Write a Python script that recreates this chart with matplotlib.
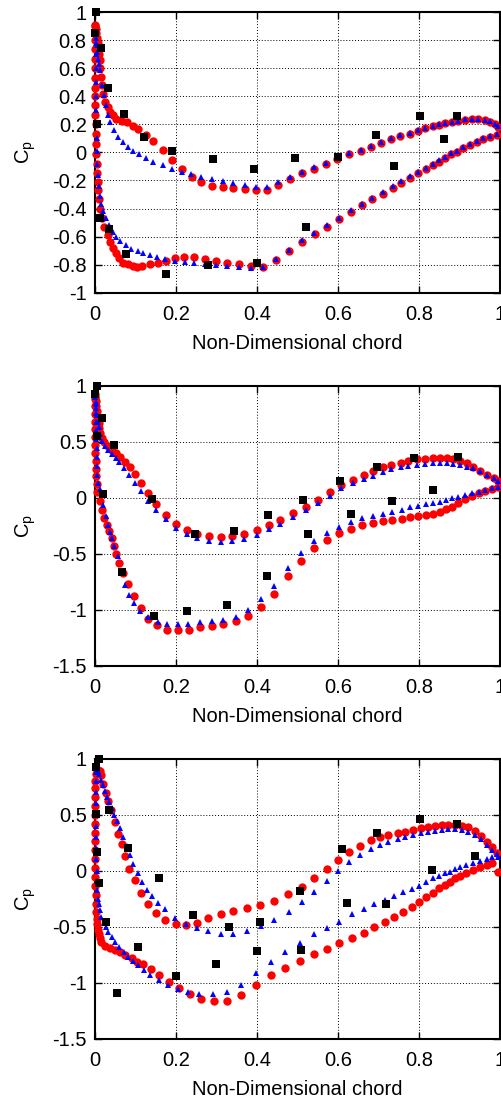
import numpy as np
import matplotlib.pyplot as plt
from matplotlib.ticker import MultipleLocator, FuncFormatter

plt.rcParams['font.family'] = ['Liberation Sans', 'DejaVu Sans']

# ---------------- panel 1 ----------------
p1_red_x = [0.000, 0.001, 0.002, 0.003, 0.005, 0.007, 0.009, 0.011, 0.012, 0.013, 0.015, 0.017, 0.021, 0.025,
            0.031, 0.037, 0.045, 0.053, 0.066, 0.078, 0.095, 0.107, 0.125, 0.144, 0.167, 0.189, 0.214, 0.239,
            0.263, 0.29, 0.315, 0.342, 0.37, 0.398, 0.424, 0.453, 0.481, 0.512, 0.541, 0.57, 0.598, 0.627,
            0.656, 0.681, 0.706, 0.73, 0.753, 0.778, 0.798, 0.816, 0.834, 0.849, 0.864, 0.881, 0.897, 0.914,
            0.93, 0.946, 0.963, 0.975, 0.988, 0.996,
            0.000, 0.000, 0.000, 0.000, 0.000, 0.000, 0.000, 0.001, 0.001, 0.001, 0.002, 0.002, 0.003, 0.003,
            0.004, 0.005, 0.0066, 0.008, 0.010, 0.0123, 0.0165, 0.023, 0.031, 0.037, 0.045, 0.052, 0.06, 0.07,
            0.081, 0.093, 0.103, 0.117, 0.136, 0.155, 0.175, 0.198, 0.22, 0.244, 0.272, 0.298, 0.327, 0.356,
            0.384, 0.414, 0.447, 0.48, 0.512, 0.543, 0.574, 0.603, 0.632, 0.66, 0.685, 0.71, 0.735, 0.756,
            0.778, 0.798, 0.817, 0.834, 0.849, 0.864, 0.879, 0.893, 0.909, 0.926, 0.942, 0.959, 0.975, 0.992]
p1_red_y = [0.91, 0.90, 0.88, 0.85, 0.82, 0.78, 0.74, 0.70, 0.66, 0.60, 0.54, 0.48, 0.42, 0.36,
            0.325, 0.29, 0.266, 0.242, 0.223, 0.214, 0.19, 0.166, 0.128, 0.081, 0.021, -0.055, -0.121, -0.178,
            -0.212, -0.236, -0.245, -0.25, -0.262, -0.269, -0.265, -0.231, -0.186, -0.148, -0.116, -0.083, -0.05, -0.014,
            0.012, 0.04, 0.069, 0.093, 0.116, 0.135, 0.154, 0.171, 0.188, 0.197, 0.207, 0.216, 0.223, 0.235,
            0.237, 0.237, 0.23, 0.218, 0.202, 0.183,
            0.86, 0.80, 0.74, 0.67, 0.60, 0.53, 0.46, 0.40, 0.34, 0.27, 0.20, 0.13, 0.06, -0.01,
            -0.08, -0.15, -0.21, -0.27, -0.33, -0.40, -0.471, -0.53, -0.59, -0.638, -0.685, -0.72, -0.752, -0.785,
            -0.799, -0.809, -0.818, -0.811, -0.797, -0.787, -0.773, -0.756, -0.747, -0.749, -0.761, -0.775, -0.785, -0.799,
            -0.809, -0.814, -0.764, -0.702, -0.641, -0.583, -0.531, -0.476, -0.424, -0.376, -0.333, -0.293, -0.252, -0.217,
            -0.181, -0.15, -0.119, -0.09, -0.067, -0.043, -0.014, 0.004, 0.029, 0.052, 0.076, 0.095, 0.111, 0.128]

p1_blue_x = [0.001, 0.002, 0.004, 0.006, 0.008, 0.010, 0.012, 0.0165, 0.022, 0.026, 0.033, 0.037, 0.048, 0.058,
             0.07, 0.082, 0.095, 0.109, 0.125, 0.144, 0.167, 0.189, 0.214, 0.237, 0.263, 0.29, 0.315, 0.342,
             0.37, 0.398, 0.424, 0.453, 0.481, 0.512, 0.541, 0.57, 0.598, 0.627, 0.656, 0.681, 0.706, 0.73,
             0.753, 0.778, 0.798, 0.816, 0.834, 0.849, 0.864, 0.881, 0.897, 0.914, 0.93, 0.946, 0.963, 0.975,
             0.988, 0.996,
             0.002, 0.002, 0.002, 0.003, 0.003, 0.003, 0.003, 0.004, 0.004, 0.005, 0.007, 0.009, 0.012, 0.016,
             0.020, 0.026, 0.035, 0.045, 0.053, 0.062, 0.076, 0.09, 0.105, 0.119, 0.136, 0.152, 0.174, 0.198,
             0.222, 0.244, 0.272, 0.298, 0.327, 0.356, 0.384, 0.414, 0.447, 0.479, 0.512, 0.542, 0.574, 0.603,
             0.632, 0.66, 0.685, 0.71, 0.735, 0.756, 0.778, 0.798, 0.817, 0.834, 0.849, 0.864, 0.879, 0.893,
             0.909, 0.926, 0.942, 0.959, 0.975, 0.992]
p1_blue_y = [0.86, 0.82, 0.77, 0.72, 0.67, 0.63, 0.587, 0.48, 0.409, 0.337, 0.266, 0.218, 0.159, 0.111,
             0.076, 0.04, 0.012, -0.012, -0.038, -0.067, -0.091, -0.119, -0.138, -0.157, -0.176, -0.19, -0.205, -0.217,
             -0.233, -0.243, -0.247, -0.214, -0.174, -0.138, -0.107, -0.075, -0.042, -0.006, 0.02, 0.047, 0.076, 0.1,
             0.122, 0.141, 0.16, 0.176, 0.192, 0.2, 0.21, 0.219, 0.226, 0.236, 0.238, 0.238, 0.232, 0.221,
             0.205, 0.186,
             0.78, 0.70, 0.60, 0.50, 0.40, 0.30, 0.20, 0.10, 0.01, -0.08, -0.16, -0.24, -0.31, -0.37,
             -0.42, -0.466, -0.519, -0.566, -0.602, -0.635, -0.662, -0.686, -0.702, -0.717, -0.728, -0.745, -0.762, -0.774,
             -0.783, -0.792, -0.799, -0.803, -0.813, -0.82, -0.822, -0.82, -0.761, -0.695, -0.628, -0.573, -0.521, -0.466,
             -0.414, -0.366, -0.323, -0.283, -0.242, -0.207, -0.171, -0.14, -0.109, -0.08, -0.057, -0.033, -0.005, 0.013,
             0.037, 0.06, 0.082, 0.1, 0.115, 0.131]

p1_exp_x = [0.003, 0.001, 0.014, 0.033, 0.072, 0.122, 0.191, 0.292, 0.393, 0.495, 0.599, 0.693, 0.802, 0.895,
            0.862, 0.739, 0.52, 0.399, 0.28, 0.176, 0.077, 0.035, 0.012, 0.006]
p1_exp_y = [1.0, 0.85, 0.743, 0.457, 0.274, 0.107, 0.012, -0.05, -0.12, -0.043, -0.031, 0.128, 0.261, 0.261,
            0.093, -0.095, -0.535, -0.792, -0.8, -0.864, -0.721, -0.543, -0.464, 0.2]

# ---------------- panel 2 ----------------
p2_red_x = [0.000, 0.001, 0.002, 0.003, 0.005, 0.007, 0.009, 0.011, 0.0123, 0.0165, 0.023, 0.031, 0.041, 0.051,
            0.062, 0.074, 0.086, 0.099, 0.113, 0.132, 0.151, 0.175, 0.2, 0.226, 0.253, 0.281, 0.31, 0.339,
            0.369, 0.399, 0.43, 0.457, 0.49, 0.521, 0.551, 0.58, 0.607, 0.636, 0.664, 0.687, 0.712, 0.732,
            0.755, 0.774, 0.794, 0.815, 0.834, 0.852, 0.868, 0.885, 0.901, 0.918, 0.934, 0.951, 0.967, 0.984,
            0.996,
            0.000, 0.000, 0.000, 0.000, 0.000, 0.001, 0.001, 0.001, 0.002, 0.002, 0.003, 0.004, 0.006, 0.0123,
            0.0165, 0.022, 0.029, 0.035, 0.041, 0.047, 0.053, 0.06, 0.07, 0.082, 0.096, 0.113, 0.132, 0.152,
            0.177, 0.204, 0.232, 0.259, 0.288, 0.317, 0.348, 0.379, 0.411, 0.442, 0.476, 0.509, 0.542, 0.573,
            0.603, 0.632, 0.66, 0.687, 0.712, 0.734, 0.757, 0.778, 0.798, 0.818, 0.835, 0.852, 0.867, 0.881,
            0.897, 0.914, 0.93, 0.947, 0.963, 0.98, 0.996]
p2_red_y = [0.93, 0.90, 0.86, 0.82, 0.77, 0.72, 0.67, 0.62, 0.578, 0.533, 0.497, 0.462, 0.429, 0.396,
            0.36, 0.319, 0.271, 0.212, 0.134, 0.042, -0.054, -0.152, -0.235, -0.285, -0.324, -0.344, -0.354, -0.345,
            -0.322, -0.288, -0.244, -0.2, -0.14, -0.08, -0.017, 0.048, 0.113, 0.158, 0.203, 0.241, 0.271, 0.292,
            0.313, 0.331, 0.342, 0.348, 0.354, 0.354, 0.351, 0.345, 0.331, 0.307, 0.277, 0.241, 0.203, 0.173,
            0.152,
            0.88, 0.82, 0.75, 0.68, 0.61, 0.54, 0.47, 0.40, 0.33, 0.26, 0.19, 0.12, 0.05, -0.032,
            -0.107, -0.181, -0.241, -0.3, -0.36, -0.434, -0.503, -0.583, -0.672, -0.768, -0.875, -0.985, -1.08, -1.134,
            -1.179, -1.184, -1.18, -1.158, -1.145, -1.13, -1.098, -1.055, -0.972, -0.856, -0.7, -0.562, -0.45, -0.377,
            -0.318, -0.279, -0.247, -0.223, -0.208, -0.199, -0.187, -0.175, -0.164, -0.158, -0.146, -0.125, -0.104, -0.08,
            -0.045, -0.015, 0.015, 0.039, 0.063, 0.081, 0.093]

p2_blue_x = [0.001, 0.002, 0.003, 0.005, 0.007, 0.009, 0.012, 0.0165, 0.025, 0.033, 0.043, 0.051, 0.06, 0.072,
             0.084, 0.099, 0.113, 0.132, 0.151, 0.175, 0.199, 0.226, 0.253, 0.281, 0.31, 0.339, 0.369, 0.399,
             0.43, 0.457, 0.49, 0.521, 0.551, 0.58, 0.607, 0.636, 0.664, 0.687, 0.712, 0.732, 0.755, 0.774,
             0.794, 0.815, 0.834, 0.852, 0.868, 0.885, 0.901, 0.918, 0.934, 0.951, 0.967, 0.984, 0.996,
             0.002, 0.002, 0.003, 0.003, 0.003, 0.004, 0.004, 0.005, 0.006, 0.008, 0.012, 0.0165, 0.0206, 0.026,
             0.031, 0.037, 0.043, 0.048, 0.056, 0.066, 0.074, 0.085, 0.097, 0.111, 0.132, 0.155, 0.177, 0.204,
             0.23, 0.259, 0.288, 0.317, 0.348, 0.379, 0.41, 0.442, 0.476, 0.509, 0.542, 0.573, 0.603, 0.632,
             0.66, 0.687, 0.712, 0.734, 0.757, 0.778, 0.798, 0.818, 0.835, 0.852, 0.867, 0.881, 0.897, 0.914,
             0.93, 0.947, 0.963, 0.98, 0.996]
p2_blue_y = [0.90, 0.85, 0.80, 0.74, 0.68, 0.63, 0.57, 0.503, 0.459, 0.429, 0.39, 0.354, 0.316, 0.265,
             0.205, 0.131, 0.057, -0.027, -0.113, -0.188, -0.271, -0.324, -0.36, -0.384, -0.396, -0.39, -0.369, -0.33,
             -0.282, -0.235, -0.171, -0.109, -0.044, 0.015, 0.083, 0.128, 0.164, 0.193, 0.232, 0.253, 0.271, 0.283,
             0.292, 0.301, 0.307, 0.307, 0.307, 0.301, 0.292, 0.277, 0.262, 0.238, 0.203, 0.173, 0.152,
             0.84, 0.76, 0.68, 0.60, 0.52, 0.44, 0.36, 0.28, 0.20, 0.13, 0.08, 0.042, -0.063, -0.166,
             -0.241, -0.307, -0.36, -0.429, -0.523, -0.657, -0.777, -0.866, -0.94, -1.015, -1.068, -1.113, -1.128, -1.128,
             -1.125, -1.112, -1.104, -1.089, -1.062, -1.0, -0.908, -0.787, -0.629, -0.49, -0.386, -0.318, -0.259, -0.214,
             -0.184, -0.163, -0.146, -0.128, -0.11, -0.086, -0.074, -0.057, -0.045, -0.036, -0.021, -0.006, 0.009, 0.024,
             0.039, 0.054, 0.069, 0.084, 0.099]

p2_exp_x = [0.006, 0.0, 0.018, 0.006, 0.048, 0.14, 0.246, 0.344, 0.428, 0.514, 0.605, 0.697, 0.788, 0.897,
            0.835, 0.734, 0.632, 0.527, 0.425, 0.325, 0.228, 0.146, 0.067, 0.021]
p2_exp_y = [1.0, 0.923, 0.708, 0.551, 0.473, -0.015, -0.324, -0.3, -0.155, -0.024, 0.152, 0.277, 0.351, 0.36,
            0.069, -0.033, -0.146, -0.324, -0.7, -0.96, -1.009, -1.054, -0.667, 0.03]

# ---------------- panel 3 ----------------
p3_red_x = [0.000, 0.002, 0.004, 0.008, 0.012, 0.0148, 0.0206, 0.026, 0.033, 0.04, 0.049, 0.058, 0.066, 0.075,
            0.085, 0.099, 0.113, 0.131, 0.151, 0.174, 0.199, 0.225, 0.251, 0.28, 0.31, 0.342, 0.376, 0.408,
            0.442, 0.477, 0.51, 0.542, 0.572, 0.601, 0.628, 0.655, 0.681, 0.704, 0.724, 0.747, 0.765, 0.786,
            0.804, 0.823, 0.839, 0.856, 0.872, 0.889, 0.905, 0.922, 0.938, 0.954, 0.968, 0.981, 0.993,
            0.000, 0.000, 0.000, 0.000, 0.000, 0.000, 0.000, 0.000, 0.000, 0.000, 0.001, 0.001, 0.002, 0.002,
            0.003, 0.004, 0.006, 0.008, 0.010, 0.012, 0.016, 0.025, 0.037, 0.049, 0.062, 0.074, 0.091, 0.103,
            0.119, 0.138, 0.159, 0.183, 0.207, 0.235, 0.263, 0.293, 0.327, 0.361, 0.397, 0.435, 0.47, 0.506,
            0.54, 0.572, 0.603, 0.634, 0.663, 0.69, 0.716, 0.739, 0.761, 0.782, 0.8, 0.818, 0.835, 0.85,
            0.864, 0.876, 0.888, 0.901, 0.917, 0.934, 0.95, 0.967, 0.981, 0.996]
p3_red_y = [0.80, 0.86, 0.89, 0.90, 0.885, 0.85, 0.77, 0.69, 0.62, 0.54, 0.43, 0.33, 0.235, 0.13,
            0.018, -0.088, -0.196, -0.294, -0.38, -0.437, -0.473, -0.484, -0.464, -0.42, -0.388, -0.364, -0.336, -0.303,
            -0.268, -0.212, -0.145, -0.07, 0.015, 0.096, 0.164, 0.22, 0.274, 0.298, 0.319, 0.333, 0.345, 0.363,
            0.378, 0.387, 0.399, 0.405, 0.408, 0.408, 0.402, 0.387, 0.357, 0.313, 0.259, 0.208, 0.155,
            0.74, 0.66, 0.58, 0.50, 0.42, 0.34, 0.26, 0.18, 0.10, 0.02, -0.06, -0.14, -0.22, -0.30,
            -0.37, -0.43, -0.48, -0.53, -0.57, -0.60, -0.634, -0.673, -0.693, -0.708, -0.729, -0.753, -0.783, -0.813,
            -0.838, -0.881, -0.932, -0.991, -1.051, -1.1, -1.142, -1.162, -1.162, -1.114, -1.025, -0.934, -0.866, -0.805,
            -0.747, -0.702, -0.643, -0.604, -0.553, -0.506, -0.461, -0.411, -0.366, -0.321, -0.283, -0.238, -0.196, -0.158,
            -0.128, -0.098, -0.069, -0.048, -0.024, 0.006, 0.03, 0.051, 0.066, -0.009]

p3_blue_x = [0.002, 0.005, 0.008, 0.011, 0.015, 0.02, 0.025, 0.03, 0.035, 0.041, 0.048, 0.055, 0.062, 0.07,
             0.078, 0.086, 0.095, 0.105, 0.116, 0.128, 0.141, 0.156, 0.173, 0.198, 0.225, 0.251, 0.28, 0.31,
             0.342, 0.376, 0.409, 0.443, 0.478, 0.511, 0.542, 0.572, 0.601, 0.628, 0.655, 0.681, 0.704, 0.724,
             0.747, 0.765, 0.786, 0.804, 0.823, 0.839, 0.856, 0.872, 0.889, 0.905, 0.922, 0.938, 0.954, 0.968,
             0.981, 0.993,
             0.002, 0.002, 0.002, 0.002, 0.002, 0.003, 0.003, 0.003, 0.004, 0.005, 0.006, 0.008, 0.010, 0.012,
             0.016, 0.022, 0.027, 0.033, 0.041, 0.049, 0.06, 0.072, 0.082, 0.095, 0.107, 0.121, 0.137, 0.159,
             0.181, 0.206, 0.23, 0.258, 0.292, 0.326, 0.36, 0.398, 0.435, 0.47, 0.506, 0.54, 0.572, 0.603,
             0.634, 0.663, 0.69, 0.716, 0.739, 0.761, 0.782, 0.8, 0.818, 0.835, 0.85, 0.864, 0.876, 0.888,
             0.901, 0.917, 0.934, 0.95, 0.967, 0.981, 0.996]
p3_blue_y = [0.88, 0.90, 0.89, 0.86, 0.81, 0.76, 0.71, 0.66, 0.61, 0.56, 0.50, 0.44, 0.38, 0.30,
             0.22, 0.14, 0.06, -0.02, -0.10, -0.17, -0.23, -0.29, -0.345, -0.42, -0.476, -0.509, -0.538, -0.563,
             -0.565, -0.54, -0.494, -0.44, -0.369, -0.284, -0.189, -0.089, 0.0, 0.075, 0.14, 0.191, 0.229, 0.259,
             0.283, 0.304, 0.318, 0.333, 0.345, 0.354, 0.363, 0.369, 0.369, 0.363, 0.345, 0.318, 0.28, 0.229,
             0.184, 0.149,
             0.80, 0.70, 0.60, 0.50, 0.40, 0.30, 0.20, 0.10, 0.0, -0.09, -0.17, -0.25, -0.30, -0.351,
             -0.411, -0.464, -0.5, -0.545, -0.589, -0.634, -0.679, -0.723, -0.768, -0.804, -0.842, -0.887, -0.932, -0.976,
             -1.021, -1.06, -1.086, -1.101, -1.103, -1.085, -1.02, -0.912, -0.813, -0.73, -0.65, -0.569, -0.515, -0.455,
             -0.39, -0.345, -0.3, -0.262, -0.226, -0.187, -0.163, -0.137, -0.098, -0.069, -0.048, -0.024, -0.009, 0.012,
             0.03, 0.051, 0.072, 0.09, 0.105, 0.12, 0.125]

p3_exp_x = [0.01, 0.002, 0.035, 0.082, 0.159, 0.243, 0.332, 0.407, 0.506, 0.609, 0.697, 0.802, 0.895, 0.939,
            0.833, 0.718, 0.622, 0.508, 0.4, 0.298, 0.199, 0.107, 0.055, 0.027, 0.011, 0.004, 0.002]
p3_exp_y = [0.994, 0.923, 0.542, 0.199, -0.068, -0.4, -0.505, -0.46, -0.186, 0.191, 0.333, 0.458, 0.414, 0.131,
            0.006, -0.298, -0.292, -0.712, -0.72, -0.836, -0.937, -0.679, -1.095, -0.461, -0.113, 0.164, 0.503]

panels = [
    (p1_red_x, p1_red_y, p1_blue_x, p1_blue_y, p1_exp_x, p1_exp_y, (-1, 1), 0.2),
    (p2_red_x, p2_red_y, p2_blue_x, p2_blue_y, p2_exp_x, p2_exp_y, (-1.5, 1), 0.5),
    (p3_red_x, p3_red_y, p3_blue_x, p3_blue_y, p3_exp_x, p3_exp_y, (-1.5, 1), 0.5),
]
# axes boxes in figure fractions (left, bottom, width, height)
boxes = [[0.1892, 0.7354, 0.8068, 0.2535],
         [0.1892, 0.3981, 0.8068, 0.2532],
         [0.1892, 0.0609, 0.8068, 0.2532]]

# tick labels like gnuplot: 0, 0.2, -0.5 ... (no float noise)
fmt = FuncFormatter(lambda v, pos: '%g' % round(v, 6))

fig = plt.figure(figsize=(5.02, 11.06), dpi=100)

for box, (rx, ry, bx, by, ex, ey, ylim, ystep) in zip(boxes, panels):
    ax = fig.add_axes(box)
    ax.plot(rx, ry, 'o', color='#ff0000', markersize=6, markeredgewidth=0, clip_on=False, zorder=3)
    ax.plot(bx, by, '^', color='#0000ff', markersize=4.2, markeredgewidth=0, clip_on=False, zorder=4)
    ax.plot(ex, ey, 's', color='black', markersize=5.2, markeredgewidth=0, clip_on=False, zorder=5)
    ax.set_xlim(0, 1)
    ax.set_ylim(*ylim)
    ax.xaxis.set_major_locator(MultipleLocator(0.2))
    ax.yaxis.set_major_locator(MultipleLocator(ystep))
    ax.xaxis.set_major_formatter(fmt)
    ax.yaxis.set_major_formatter(fmt)
    ax.grid(True, linestyle=(0, (1, 2)), color='black', linewidth=0.7)
    ax.tick_params(direction='in', length=5, width=1, top=True, right=True, labelsize=14.5)
    ax.tick_params(axis='x', pad=9)
    ax.tick_params(axis='y', pad=6)
    for s in ax.spines.values():
        s.set_linewidth(1.5)
    ax.set_xlabel('Non-Dimensional chord', fontsize=14.5, labelpad=7)
    ax.set_ylabel('C$_\\mathregular{p}$', fontsize=14.5, labelpad=10)

fig.savefig('out.png', dpi=100)
